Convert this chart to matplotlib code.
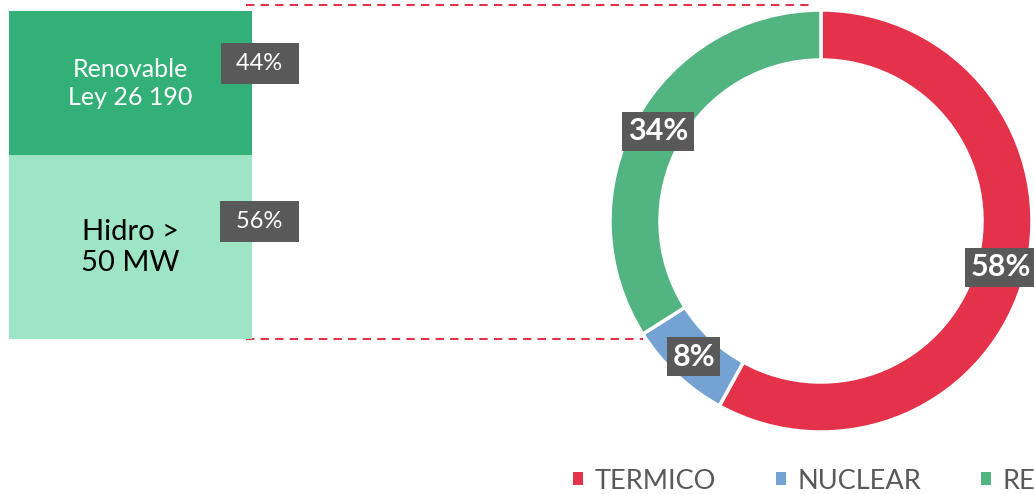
import matplotlib
matplotlib.use("Agg")
import matplotlib.pyplot as plt
from matplotlib.patches import Patch
from matplotlib.lines import Line2D
import numpy as np

plt.rcParams['font.family'] = ['Lato', 'DejaVu Sans']

# ---- data ----
donut_labels = ["TERMICO", "NUCLEAR", "RENOVABLE"]
donut_values = [58, 8, 34]
donut_colors = ["#E3324A", "#74A2D3", "#52B480"]

bar_labels = ["Hidro >\n50 MW", "Renovable\nLey 26 190"]
bar_values = [56, 44]
bar_colors = ["#9DE5C4", "#33B077"]
bar_text_colors = ["black", "white"]

W, H = 1034, 494
fig = plt.figure(figsize=(W / 100, H / 100), dpi=100)

def px_axes(x0, y0, x1, y1, **kw):
    """axes from pixel box (top-left origin)"""
    return fig.add_axes([x0 / W, (H - y1) / H, (x1 - x0) / W, (y1 - y0) / H], **kw)

# overlay for connector dashed lines
ov = px_axes(0, 0, W, H)
ov.set_xlim(0, W)
ov.set_ylim(H, 0)
ov.axis('off')
ov.add_line(Line2D([246, 810], [5, 5], color="#E3324A", lw=1.5, ls=(0, (4, 3))))
ov.add_line(Line2D([246, 643], [339, 339], color="#E3324A", lw=1.5, ls=(0, (4, 3))))

# ---- stacked bar ----
bx = px_axes(9, 11, 252, 339)
bottom = 0
for v, c, lab, tc in zip(bar_values, bar_colors, bar_labels, bar_text_colors):
    bx.bar(0, v, width=1, bottom=bottom, color=c, edgecolor='none')
    fs = 21 if tc == "black" else 18
    bx.text(0, bottom + v / 2, lab, ha='center', va='center', color=tc,
            fontsize=fs, linespacing=1.25)
    bottom += v
bx.set_xlim(-0.5, 0.5)
bx.set_ylim(0, 100)
bx.axis('off')
# percentage tags
tag_y = [35.8, 84.0]
for v, ty in zip(bar_values, tag_y):
    bx.text(0.531, ty, f" {v}% ", ha='center', va='center', color='white',
            fontsize=17,
            bbox=dict(boxstyle='square,pad=0.42', fc='#595959', ec='none'))

# ---- donut ----
R = 211
dx = px_axes(821 - R, 221 - R, 821 + R, 221 + R)
wedges, _ = dx.pie(donut_values, colors=donut_colors, startangle=90, counterclock=False,
                   radius=1, wedgeprops=dict(width=50 / R, edgecolor='white', linewidth=2.5))
dx.set_xlim(-1, 1)
dx.set_ylim(-1, 1)
dx.set_aspect('equal')
dx.axis('off')
cum = 0
tot = sum(donut_values)
for v in donut_values:
    mid = np.deg2rad(90 - (cum + v / 2) / tot * 360)
    r = (R - 25) / R
    dx.text(r * np.cos(mid), r * np.sin(mid), f"{v}%", ha='center', va='center',
            color='white', fontsize=22, fontweight='bold',
            bbox=dict(boxstyle='square,pad=0.18', fc='#595959', ec='none'))
    cum += v

# ---- legend ----
handles = [Patch(facecolor=c, edgecolor='none') for c in donut_colors]
leg = fig.legend(handles, donut_labels, loc='center left',
                 bbox_to_anchor=(573 / W, (H - 481) / H), ncol=3, frameon=False,
                 fontsize=19.5, handlelength=0.38, handleheight=0.38, handletextpad=0.42,
                 columnspacing=2.2, borderpad=0, borderaxespad=0)
for t in leg.get_texts():
    t.set_color('#595959')

fig.savefig("out.png", dpi=100)
